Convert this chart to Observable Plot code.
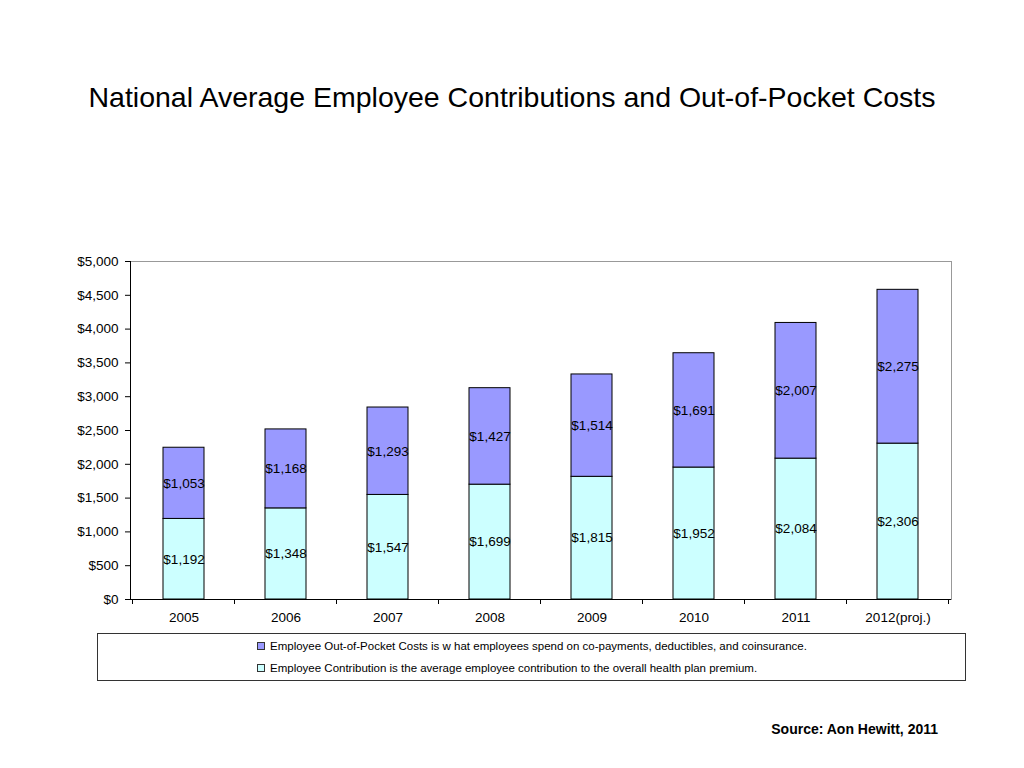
<!DOCTYPE html>
<html>
<head>
<meta charset="utf-8">
<script src="https://cdn.jsdelivr.net/npm/d3@7"></script>
<script src="https://cdn.jsdelivr.net/npm/@observablehq/plot@0.6"></script>
<style>
  html, body { margin: 0; padding: 0; background: #fff; }
  #page { position: relative; width: 1024px; height: 768px; font-family: "Liberation Sans", Arial, sans-serif; overflow: hidden; }
  #title { position: absolute; left: 0; width: 1024px; top: 79px; text-align: center; font-size: 28.5px; color: #000; line-height: 36px; }
  #chart { position: absolute; left: 0; top: 240px; }
  #legend { position: absolute; left: 97px; top: 633px; width: 869px; height: 48px; border: 1px solid #333; box-sizing: border-box; font-size: 11.5px; color: #000; }
  .item { position: absolute; left: 159px; height: 14px; line-height: 14px; white-space: nowrap; }
  .sw { display: inline-block; width: 6px; height: 6px; border: 1px solid #333; margin-right: 5px; vertical-align: 0px; }
  #source { position: absolute; right: 86px; top: 721px; font-size: 14px; font-weight: bold; color: #000; }
</style>
</head>
<body>
<div id="page">
  <div id="title">National Average Employee Contributions and Out-of-Pocket Costs</div>
  <div id="chart"></div>
  <div id="legend">
    <div class="item" style="top:5px"><span class="sw" style="background:#9999FF"></span>Employee Out-of-Pocket Costs is w hat employees spend on co-payments, deductibles, and coinsurance.</div>
    <div class="item" style="top:27px"><span class="sw" style="background:#CCFFFF"></span>Employee Contribution is the average employee contribution to the overall health plan premium.</div>
  </div>
  <div id="source">Source: Aon Hewitt, 2011</div>
</div>
<script>
const years = ["2005", "2006", "2007", "2008", "2009", "2010", "2011", "2012(proj.)"];
const contribution = [1192, 1348, 1547, 1699, 1815, 1952, 2084, 2306];
const outOfPocket = [1053, 1168, 1293, 1427, 1514, 1691, 2007, 2275];
const seriesNames = ["Employee Contribution", "Employee Out-of-Pocket Costs"];
const seriesColors = ["#CCFFFF", "#9999FF"];
const yTicks = [0, 500, 1000, 1500, 2000, 2500, 3000, 3500, 4000, 4500, 5000];

const rows = [];
years.forEach((yr, i) => {
  rows.push({year: yr, series: seriesNames[0], y1: 0, y2: contribution[i], v: contribution[i]});
  rows.push({year: yr, series: seriesNames[1], y1: contribution[i], y2: contribution[i] + outOfPocket[i], v: outOfPocket[i]});
});
rows.forEach(r => r.mid = (r.y1 + r.y2) / 2);

const fmt = d => "$" + d3.format(",")(d);

const plot = Plot.plot({
  width: 1024,
  height: 400,
  marginTop: 21,
  marginBottom: 41,
  marginLeft: 130,
  marginRight: 73,
  style: {fontFamily: "'Liberation Sans', Arial, sans-serif", fontSize: "13.5px", color: "#000", background: "#fff"},
  x: {domain: years, paddingInner: 0.6, paddingOuter: 0.3, label: null},
  y: {domain: [0, 5000], label: null},
  color: {domain: seriesNames, range: seriesColors},
  marks: [
    Plot.frame({stroke: "#999"}),
    Plot.barY(rows, {x: "year", y1: "y1", y2: "y2", fill: "series", stroke: "#000", strokeWidth: 1}),
    Plot.text(rows, {x: "year", y: "mid", text: d => fmt(d.v), fontSize: 13.5, fill: "#000"}),
    Plot.axisY({ticks: yTicks, tickFormat: fmt, tickSize: 5, tickPadding: 7, fontSize: 13.5, label: null}),
    Plot.axisX({tickSize: 0, tickPadding: 13, fontSize: 13.5, label: null}),
    Plot.ruleY([0], {stroke: "#000"}),
    Plot.frame({anchor: "left", stroke: "#000"})
  ]
});
document.getElementById("chart").appendChild(plot);

// category boundary ticks on the x axis, placed using Plot's x scale
const xs = plot.scale("x");
const ys = plot.scale("y");
const svg = d3.select(plot);
const y0 = ys.apply(0);
const firstLeft = xs.apply(years[0]) - xs.step * xs.paddingOuter - (xs.step - xs.bandwidth) / 2 + xs.step * xs.paddingOuter;
const edges = years.map((d, i) => xs.apply(d) - (xs.step - xs.bandwidth) / 2);
edges.push(edges[edges.length - 1] + xs.step);
svg.append("g").selectAll("line").data(edges).join("line")
  .attr("x1", d => d).attr("x2", d => d)
  .attr("y1", y0).attr("y2", y0 + 5)
  .attr("stroke", "#000");
</script>
</body>
</html>
